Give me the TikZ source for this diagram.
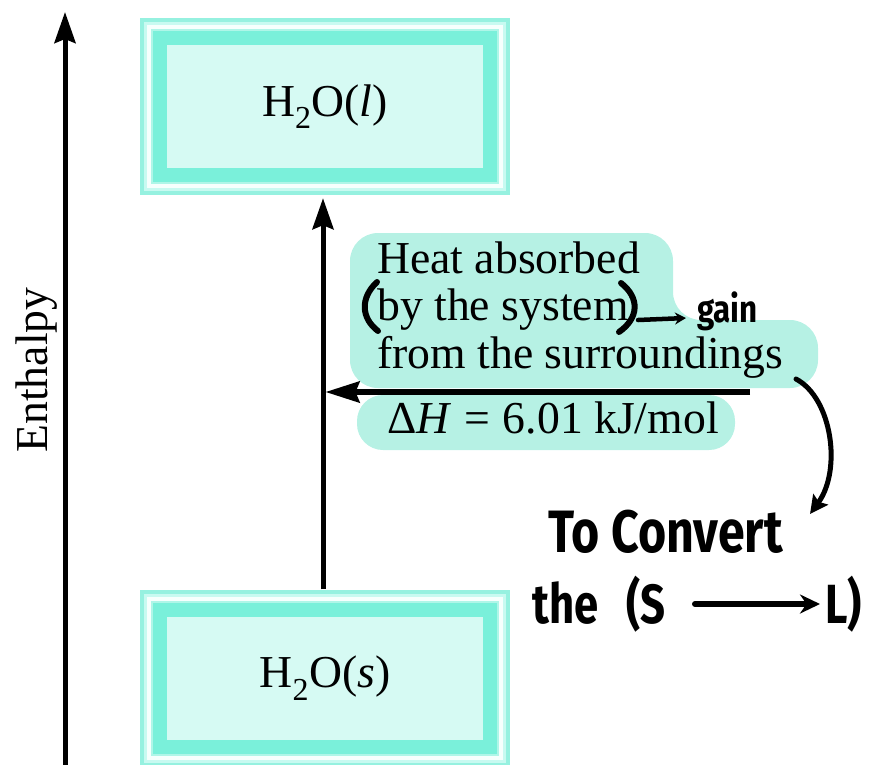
\documentclass[tikz,border=0pt]{standalone}
\usepackage{fontspec}
\usepackage{graphicx}
\setmainfont{Liberation Serif}
\newfontfamily\handfont{Fira Sans}
\usetikzlibrary{arrows.meta}
\definecolor{hl}{RGB}{182,241,228}
\definecolor{frA}{RGB}{150,241,224}
\definecolor{frB}{RGB}{200,250,241}
\definecolor{frC}{RGB}{246,255,253}
\definecolor{frD}{RGB}{175,246,232}
\definecolor{frE}{RGB}{122,240,218}
\definecolor{frF}{RGB}{214,250,243}
\newcommand\labfont{\fontsize{45.7}{47.5}\selectfont}
\newcommand\handbig{\handfont\bfseries\fontsize{46}{50}\selectfont}
\newcommand\handsmall{\handfont\bfseries\fontsize{33}{36}\selectfont}
\begin{document}
\begin{tikzpicture}[x=1pt,y=-1pt,
  stateframe/.style={minimum width=370pt, minimum height=177pt, inner sep=0pt,
    fill=frA, font=\labfont, text=black,
    path picture={
      \fill[frB] ([shift={(4,4)}]path picture bounding box.north west) rectangle ([shift={(-4,-4)}]path picture bounding box.south east);
      \fill[frC] ([shift={(7,7)}]path picture bounding box.north west) rectangle ([shift={(-7,-7)}]path picture bounding box.south east);
      \fill[frD] ([shift={(11,11)}]path picture bounding box.north west) rectangle ([shift={(-11,-11)}]path picture bounding box.south east);
      \fill[frE] ([shift={(13,13)}]path picture bounding box.north west) rectangle ([shift={(-13,-13)}]path picture bounding box.south east);
      \fill[frF] ([shift={(27,27)}]path picture bounding box.north west) rectangle ([shift={(-27,-27)}]path picture bounding box.south east);
    }},
  bigarrow/.style={line width=5pt, -{Stealth[length=31pt,width=21pt,inset=4pt]}},
  labtext/.style={font=\labfont, inner sep=0pt},
  ink/.style={draw=black, line width=6pt, line cap=round},
  handtext/.style={font=\handbig, inner sep=0pt},
  blob/.style={fill=hl}
]
\useasboundingbox (0,0) rectangle (872,764);

% highlight blobs
\fill[blob, rounded corners=28pt] (350,300) -- (350,233) -- (673,233) -- (673,320) -- (818,320) -- (818,388) -- (350,388) -- cycle;
\fill[blob, rounded corners=26pt] (357,395) rectangle (735,450);

% state boxes
\node[stateframe] (liq) at (325,106.5) {H\textsubscript{2}O(\textit{l})};
\node[stateframe] (sol) at (325,678) {H\textsubscript{2}O(\textit{s})};

% enthalpy axis
\coordinate (axbot) at (65,770);
\coordinate (axtop) at (65,12);
\draw[bigarrow] (axbot) -- (axtop);
\node[labtext, rotate=90, anchor=base] (enth) at (47,370) {Enthalpy};

% transition arrow
\coordinate (vx) at (323,0);
\draw[bigarrow, shorten >=3pt] (sol.north -| vx) -- (liq.south -| vx);

% heat arrow
\coordinate (hstart) at (750,392);
\draw[line width=5.5pt, -{Stealth[length=34pt,width=21pt,inset=4pt]}, shorten >=2.5pt] (hstart) -- (hstart -| vx);

% printed labels
\node[labtext, anchor=base west] (heat1) at (377,273) {Heat absorbed};
\node[labtext, anchor=base west] (heat2) at (377,320) {by the system};
\node[labtext, anchor=base west] (heat3) at (377,368) {from the surroundings};
\node[labtext, anchor=base west] (dh) at (387,433) {Δ\textit{H}\hspace{0.28em}=\hspace{0.28em}6.01 kJ/mol};

% handwritten annotations
\draw[ink] (377,282) .. controls (360,298) and (361,318) .. (378,331);
\draw[ink] (621,283) .. controls (640,298) and (639,318) .. (619,332);
\coordinate (ga1) at (638,320);
\coordinate (ga2) at (686,318);
\draw[ink, line width=4.5pt, -{Stealth[length=11pt,width=12pt]}] (ga1) -- (ga2);
\node[inner sep=0pt, font=\handsmall, anchor=base west] (gain) at (697,322) {\scalebox{0.95}[1.15]{gain}};

\coordinate (cv1) at (796,379);
\coordinate (cv2) at (810,514);
\draw[ink, line width=5pt, -{Stealth[length=18pt,width=18pt,inset=3pt]}] (cv1) .. controls (832,398) and (842,470) .. (cv2);

\node[handtext, anchor=base west] (conv) at (548,552) {\scalebox{1.05}[1.3]{To Convert}};
\node[handtext, anchor=base west] (the) at (532,623) {\scalebox{0.95}[1.2]{the}};
\node[handtext, anchor=base west] (sS) at (626,623) {\scalebox{0.95}[1.2]{(S}};
\node[handtext, anchor=base east] (ell) at (862,623) {\scalebox{0.95}[1.2]{L)}};
\coordinate (sl1) at (695,604);
\coordinate (sl2) at (820,604);
\draw[ink, -{Stealth[length=20pt,width=19pt]}] (sl1) -- (sl2);
\end{tikzpicture}
\end{document}
